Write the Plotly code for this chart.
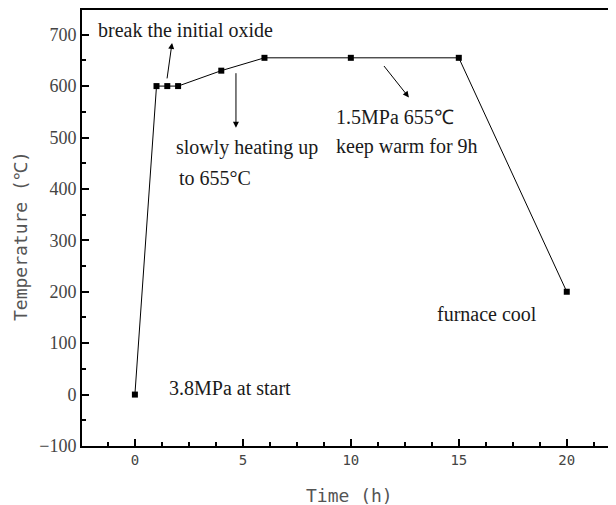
import plotly.graph_objects as go

time_h = [0, 1, 1.5, 2, 4, 6, 10, 15, 20]
temp_c = [0, 600, 600, 600, 630, 655, 655, 655, 200]
x_ticks = [0, 5, 10, 15, 20]
y_ticks = [-100, 0, 100, 200, 300, 400, 500, 600, 700]

serif = "Liberation Serif, Times New Roman, serif"
mono = "DejaVu Sans Mono, Liberation Mono, monospace"

fig = go.Figure()
fig.add_trace(go.Scatter(
    x=time_h, y=temp_c, mode="lines+markers",
    line=dict(color="black", width=1),
    marker=dict(symbol="square", size=6, color="black"),
    showlegend=False, hoverinfo="skip"))

def txt(x, y, s, xanchor="left"):
    fig.add_annotation(x=x, y=y, text=s, showarrow=False, xanchor=xanchor,
                       yanchor="middle", font=dict(family=serif, size=20, color="#1a1a1a"))

def arrow(x0, y0, x1, y1):
    fig.add_annotation(x=x1, y=y1, ax=x0, ay=y0, axref="x", ayref="y", xref="x", yref="y",
                       text="", showarrow=True, arrowhead=2, arrowsize=1.2,
                       arrowwidth=1, arrowcolor="black")

txt(-1.8, 710, "break the initial oxide")
arrow(1.48, 612, 1.72, 684)
txt(1.8, 480, "slowly heating up")
txt(1.95, 422, "to 655°C")
arrow(4.68, 628, 4.68, 519)
txt(12.05, 539, "1.5MPa 655℃", xanchor="center")
txt(12.6, 482, "keep warm for 9h", xanchor="center")
arrow(11.48, 642, 12.69, 578)
txt(16.3, 156, "furnace cool", xanchor="center")
txt(1.5, 13, "3.8MPa at start")

# axis titles
fig.add_annotation(xref="paper", yref="paper", x=0.5, y=0, yshift=-49, xshift=0,
                   text="Time (h)", showarrow=False, xanchor="center", yanchor="middle",
                   font=dict(family=mono, size=18, color="#555"))
fig.add_annotation(xref="paper", yref="paper", x=0, y=0.5, xshift=-62, yshift=-8,
                   text="Temperature (℃)", showarrow=False, textangle=-90,
                   xanchor="center", yanchor="middle",
                   font=dict(family=mono, size=18, color="#555"))

# page body has an 8px margin, so the figure is sized to end exactly at the window edge
fig.update_layout(
    width=608, height=497,
    margin=dict(l=74, r=0, t=2, b=59),
    paper_bgcolor="white", plot_bgcolor="white",
    xaxis=dict(range=[-2.45, 22.28], tickvals=x_ticks, ticks="inside", ticklen=7, tickwidth=2,
               tickcolor="black", showline=True, linecolor="black", linewidth=2, mirror=True,
               showgrid=False, zeroline=False, automargin=False,
               minor=dict(dtick=1.25, tick0=0, ticks="inside", ticklen=4, tickwidth=1.5, tickcolor="black"),
               tickfont=dict(family=mono, size=14, color="#444")),
    yaxis=dict(range=[-100, 748], tickvals=y_ticks, ticks="inside", ticklen=7, tickwidth=2,
               tickcolor="black", showline=True, linecolor="black", linewidth=2,
               showgrid=False, zeroline=False, automargin=False,
               minor=dict(dtick=50, tick0=0, ticks="inside", ticklen=4, tickwidth=1.5, tickcolor="black"),
               tickfont=dict(family=serif, size=18, color="#444")),
)

fig.write_html("out.html")
